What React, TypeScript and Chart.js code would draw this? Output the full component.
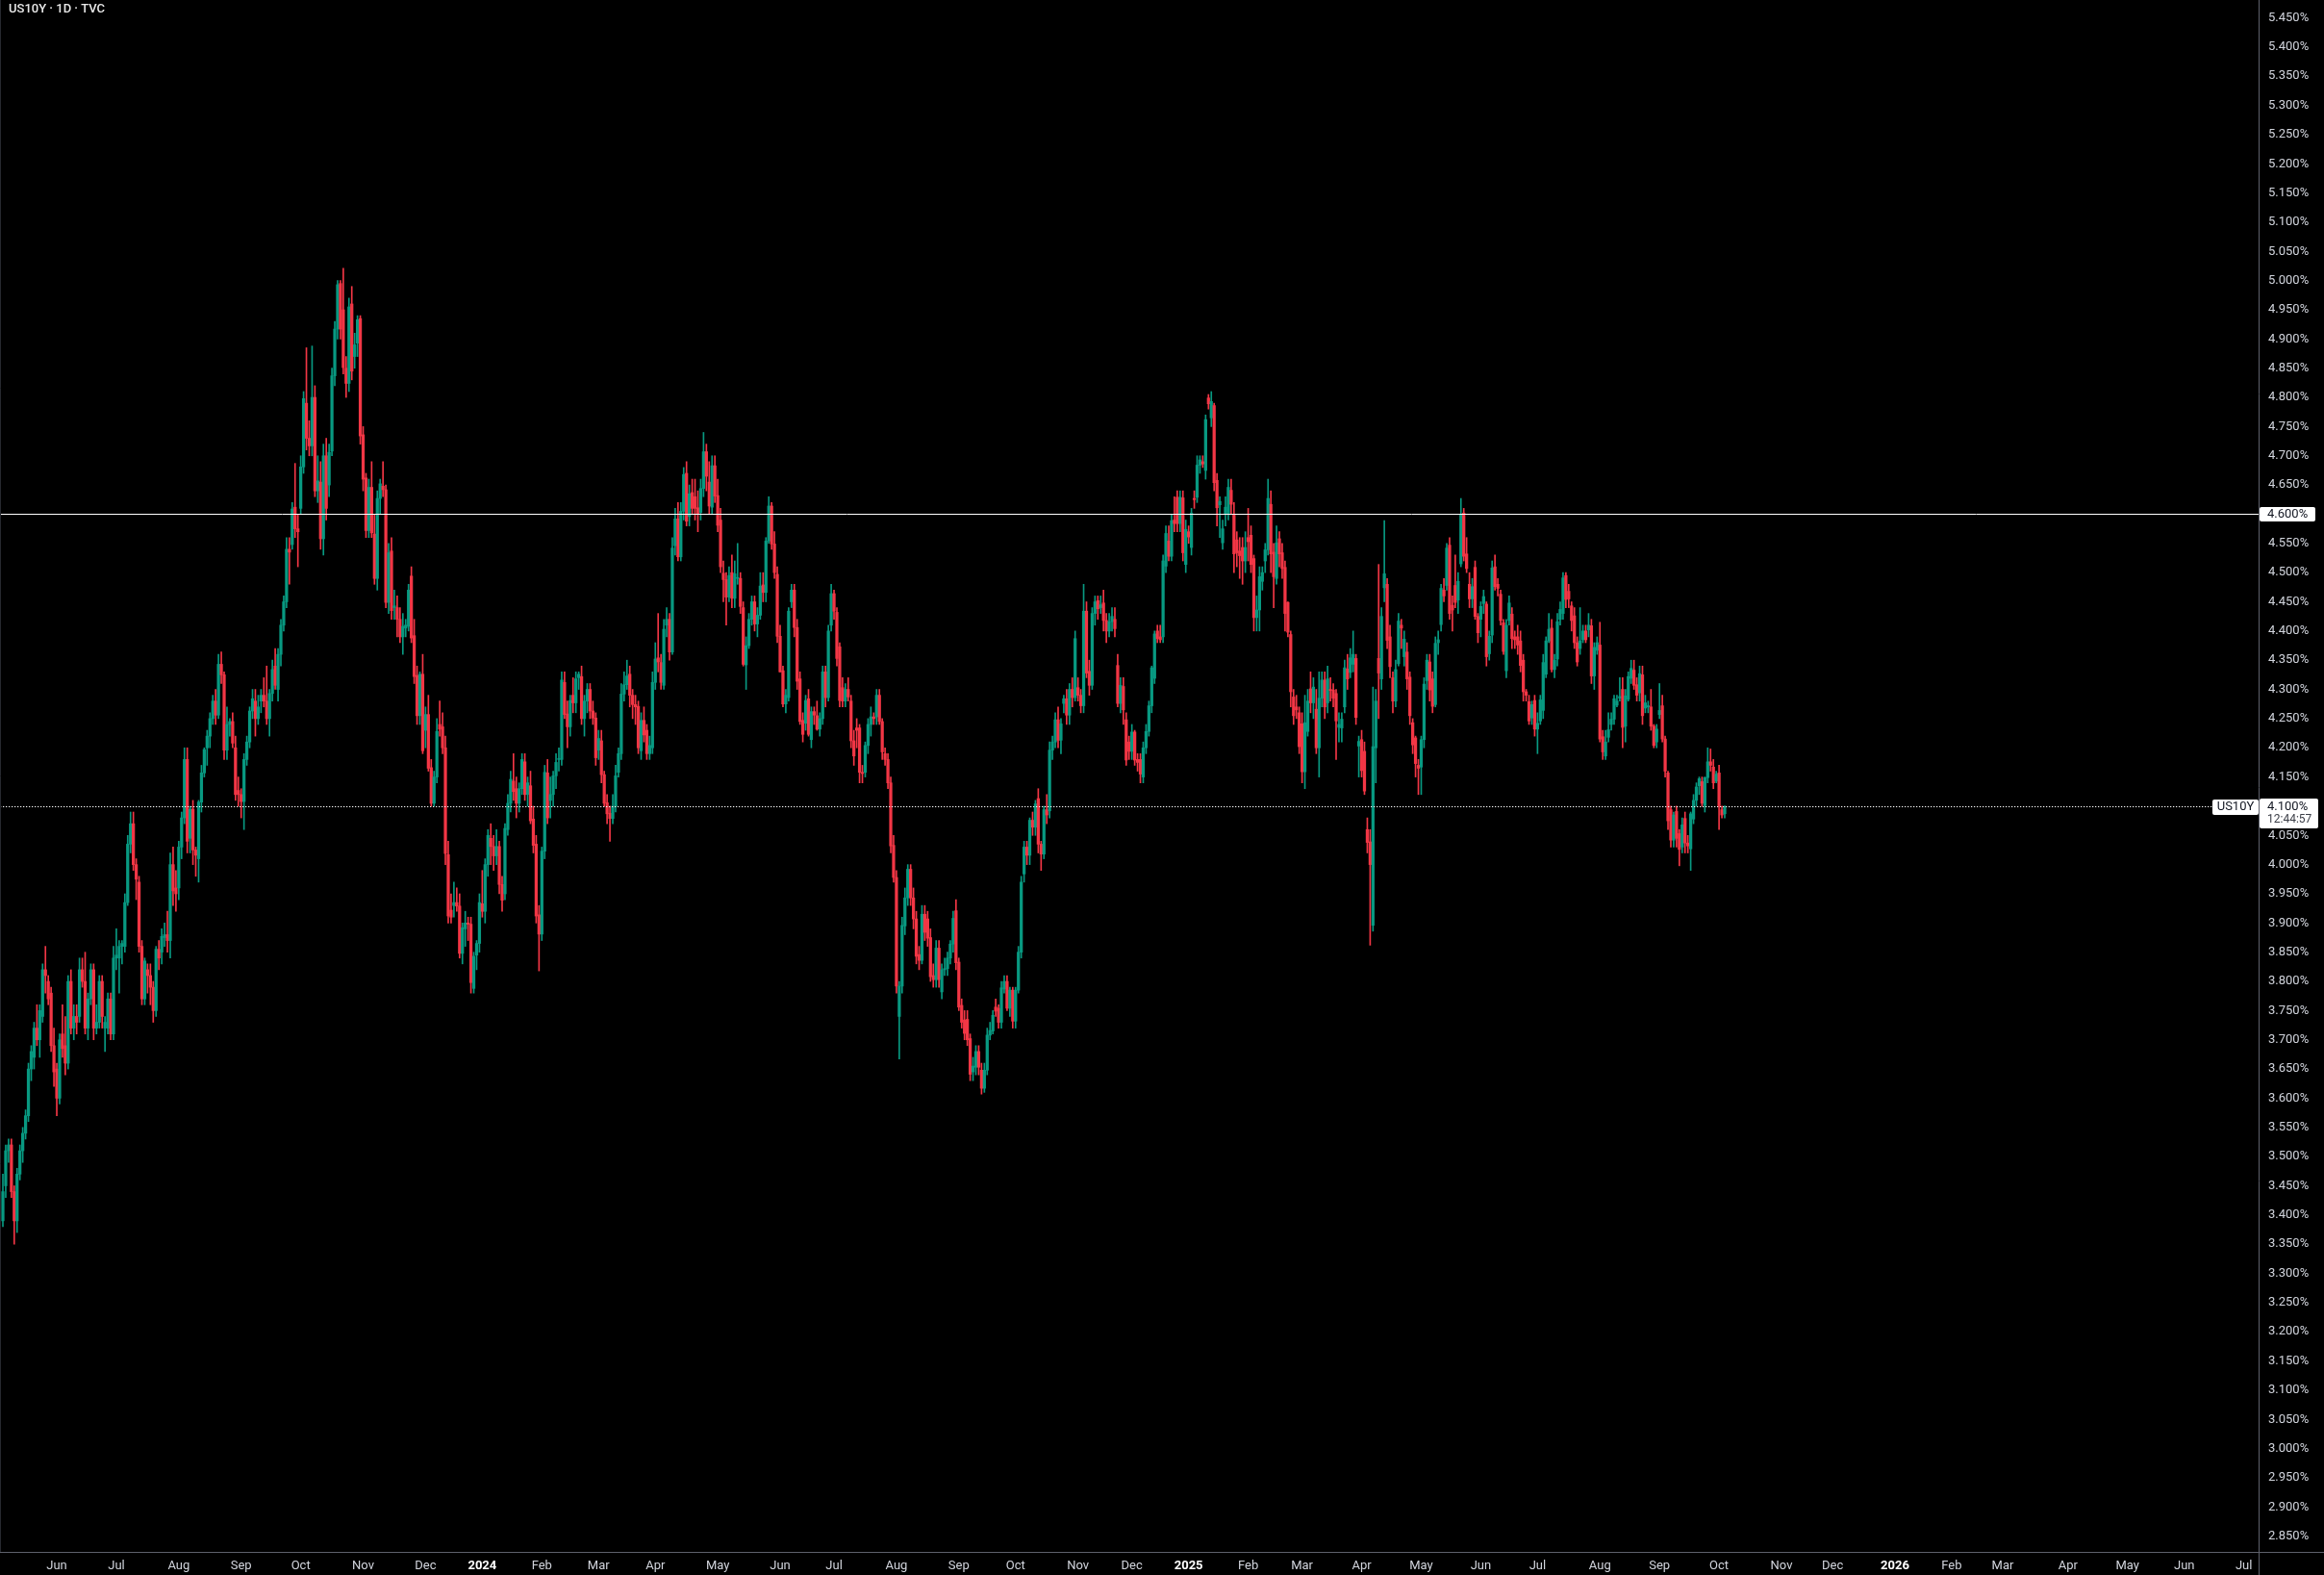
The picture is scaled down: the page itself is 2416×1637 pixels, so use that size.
import React, { useEffect, useRef } from "react";
import { Chart, registerables } from "chart.js";

Chart.register(...registerables);

const W = 2416;
const H = 1637;
const FONT = "Roboto";
const UP = "#089981";
const DOWN = "#f23645";

const chartTitle = "US10Y · 1D · TVC";

// [open, high, low, close] daily candles (yield, %)
const candles2023: number[][] = [
  [3.39,3.47,3.38,3.44],[3.45,3.52,3.43,3.51],[3.51,3.53,3.49,3.52],[3.52,3.53,3.43,3.44],[3.44,3.45,3.35,3.39],
  [3.39,3.48,3.37,3.47],[3.47,3.52,3.46,3.51],[3.51,3.55,3.49,3.54],[3.54,3.58,3.53,3.57],[3.57,3.66,3.56,3.65],
  [3.65,3.69,3.63,3.68],[3.67,3.73,3.65,3.72],[3.72,3.76,3.69,3.70],[3.70,3.76,3.67,3.75],[3.74,3.83,3.73,3.82],
  [3.82,3.86,3.78,3.81],[3.80,3.81,3.76,3.77],[3.78,3.79,3.68,3.69],[3.69,3.72,3.62,3.645],[3.65,3.66,3.57,3.60],
  [3.60,3.71,3.59,3.70],[3.71,3.76,3.67,3.685],[3.69,3.74,3.64,3.66],[3.66,3.81,3.65,3.80],[3.80,3.82,3.71,3.72],
  [3.72,3.76,3.70,3.74],[3.74,3.76,3.71,3.73],[3.74,3.84,3.73,3.82],[3.82,3.84,3.79,3.80],[3.80,3.85,3.71,3.72],
  [3.72,3.78,3.70,3.77],[3.77,3.83,3.76,3.82],[3.82,3.83,3.70,3.72],[3.72,3.76,3.71,3.73],[3.73,3.81,3.72,3.80],
  [3.80,3.81,3.72,3.74],[3.72,3.74,3.68,3.73],[3.72,3.78,3.71,3.77],[3.77,3.78,3.70,3.71],[3.71,3.86,3.70,3.84],
  [3.84,3.89,3.82,3.845],[3.84,3.87,3.78,3.86],[3.86,3.87,3.83,3.865],[3.86,3.95,3.85,3.935],[3.935,4.05,3.93,4.035],
  [4.035,4.09,4.02,4.07],[4.07,4.09,3.99,4.00],[4.00,4.01,3.94,3.975],[3.97,3.98,3.85,3.86],[3.86,3.87,3.76,3.77],
  [3.77,3.84,3.76,3.835],[3.82,3.83,3.78,3.81],[3.81,3.83,3.76,3.79],[3.79,3.80,3.73,3.75],[3.75,3.86,3.74,3.855],
  [3.855,3.87,3.82,3.84],[3.85,3.89,3.83,3.877],[3.875,3.90,3.86,3.88],[3.88,3.92,3.85,3.87],[3.87,4.02,3.84,4.00],
  [4.00,4.03,3.93,3.955],[3.96,3.99,3.92,3.95],[3.96,4.04,3.94,4.03],[4.03,4.09,4.01,4.08],[4.08,4.20,4.07,4.18],
  [4.18,4.20,4.02,4.04],[4.045,4.10,4.02,4.095],[4.095,4.11,4.00,4.025],[4.025,4.03,3.98,4.016],[4.01,4.11,3.97,4.107],
  [4.107,4.17,4.09,4.157],[4.157,4.20,4.15,4.197],[4.20,4.23,4.17,4.22],[4.22,4.26,4.20,4.25],[4.25,4.29,4.24,4.28],
  [4.28,4.30,4.24,4.256],[4.256,4.36,4.25,4.343],[4.343,4.364,4.31,4.325],[4.325,4.33,4.18,4.196],[4.196,4.27,4.18,4.24],
  [4.24,4.25,4.22,4.245],[4.245,4.26,4.20,4.208],[4.20,4.22,4.11,4.12],[4.127,4.15,4.10,4.12],[4.12,4.13,4.08,4.108],
  [4.108,4.19,4.06,4.18],[4.18,4.22,4.17,4.21],[4.21,4.27,4.20,4.263],[4.263,4.30,4.25,4.284],[4.28,4.30,4.22,4.25],
  [4.25,4.29,4.24,4.27],[4.28,4.30,4.26,4.29],[4.29,4.32,4.27,4.28],[4.28,4.34,4.24,4.25],[4.25,4.30,4.22,4.293],
  [4.293,4.35,4.28,4.334],[4.34,4.37,4.30,4.307],[4.30,4.37,4.28,4.36],[4.36,4.42,4.34,4.41],[4.41,4.46,4.40,4.45],
  [4.45,4.56,4.44,4.54],[4.54,4.56,4.48,4.535],[4.548,4.62,4.54,4.609],[4.612,4.687,4.56,4.575],[4.575,4.60,4.51,4.57],
  [4.61,4.70,4.60,4.681],[4.681,4.81,4.67,4.798],[4.79,4.885,4.71,4.73],[4.73,4.76,4.70,4.717],[4.717,4.888,4.70,4.80],
  [4.80,4.82,4.63,4.64],[4.64,4.70,4.62,4.657],[4.655,4.69,4.54,4.558],[4.558,4.72,4.53,4.70],[4.70,4.73,4.59,4.61],
  [4.65,4.72,4.63,4.706],[4.708,4.85,4.70,4.837],[4.837,4.93,4.82,4.917],[4.917,5.00,4.90,4.993],[4.995,5.00,4.90,4.917],
  [4.95,5.021,4.84,4.851],[4.85,4.87,4.80,4.824],[4.824,4.97,4.81,4.955],[4.96,4.99,4.83,4.845],[4.87,4.91,4.85,4.89],
  [4.893,4.94,4.87,4.933],[4.935,4.94,4.72,4.734],[4.736,4.75,4.64,4.66],[4.662,4.67,4.56,4.572],[4.572,4.66,4.56,4.646],
  [4.646,4.69,4.56,4.568],[4.566,4.60,4.48,4.49],[4.49,4.64,4.47,4.627],[4.627,4.66,4.60,4.652],[4.648,4.69,4.63,4.642],
  [4.642,4.65,4.44,4.449],[4.449,4.55,4.43,4.534],[4.537,4.56,4.42,4.435],[4.44,4.47,4.42,4.443],[4.44,4.46,4.39,4.42],
  [4.42,4.44,4.38,4.39],[4.39,4.43,4.36,4.408],[4.405,4.42,4.39,4.41],[4.408,4.48,4.40,4.47],[4.494,4.51,4.38,4.388],
  [4.392,4.42,4.31,4.322],[4.324,4.34,4.24,4.255],[4.255,4.33,4.24,4.326],[4.326,4.36,4.19,4.195],[4.23,4.27,4.20,4.257],
  [4.257,4.29,4.16,4.165],[4.166,4.18,4.10,4.105],[4.105,4.16,4.10,4.15],[4.15,4.25,4.14,4.228],[4.24,4.28,4.22,4.232],
  [4.236,4.26,4.19,4.20],[4.20,4.22,4.00,4.019],[4.017,4.04,3.90,3.912],[3.922,3.95,3.90,3.91],[3.93,3.97,3.91,3.935],
  [3.935,3.96,3.92,3.929],[3.929,3.95,3.84,3.848],[3.848,3.90,3.83,3.892],[3.89,3.92,3.86,3.90],[3.90,3.91,3.87,3.898],
  [3.898,3.91,3.78,3.798],[3.788,3.85,3.78,3.843],[3.845,3.87,3.82,3.865],[3.865,3.95,3.85,3.935],
];

const candles2024: number[][] = [
  [3.933,3.99,3.91,3.92],[3.92,4.01,3.90,4.00],[4.00,4.06,3.98,4.05],[4.045,4.07,4.00,4.031],[4.031,4.05,3.99,4.015],
  [4.015,4.06,4.00,4.031],[4.031,4.04,3.95,3.966],[3.966,3.98,3.92,3.939],[3.95,4.07,3.94,4.062],[4.06,4.12,4.05,4.105],
  [4.105,4.16,4.09,4.146],[4.143,4.19,4.11,4.125],[4.13,4.15,4.08,4.105],[4.105,4.14,4.09,4.13],[4.13,4.19,4.12,4.18],
  [4.176,4.19,4.11,4.12],[4.12,4.15,4.10,4.14],[4.135,4.16,4.07,4.075],[4.078,4.10,4.02,4.033],[4.035,4.05,3.90,3.912],
  [3.914,3.93,3.818,3.881],[3.881,4.03,3.87,4.023],[4.023,4.17,4.01,4.158],[4.157,4.18,4.07,4.08],[4.11,4.15,4.08,4.12],
  [4.12,4.16,4.10,4.152],[4.152,4.19,4.13,4.175],[4.18,4.20,4.16,4.18],[4.18,4.33,4.17,4.316],[4.312,4.33,4.25,4.257],
  [4.258,4.28,4.20,4.236],[4.236,4.29,4.22,4.281],[4.29,4.32,4.26,4.277],[4.277,4.33,4.26,4.318],[4.32,4.33,4.30,4.326],
  [4.322,4.34,4.24,4.25],[4.25,4.29,4.22,4.28],[4.28,4.31,4.26,4.30],[4.30,4.31,4.25,4.263],[4.263,4.28,4.24,4.251],
  [4.251,4.26,4.17,4.183],[4.196,4.23,4.18,4.216],[4.212,4.23,4.14,4.154],[4.154,4.16,4.10,4.105],[4.106,4.12,4.07,4.087],
  [4.088,4.10,4.04,4.079],[4.079,4.12,4.07,4.10],[4.10,4.17,4.09,4.152],[4.158,4.20,4.15,4.19],[4.19,4.31,4.18,4.292],
  [4.292,4.33,4.28,4.308],[4.308,4.35,4.30,4.323],[4.326,4.34,4.27,4.29],[4.29,4.30,4.25,4.274],[4.274,4.29,4.24,4.27],
  [4.271,4.28,4.19,4.20],[4.195,4.26,4.18,4.247],[4.247,4.27,4.21,4.222],[4.23,4.24,4.18,4.19],[4.19,4.22,4.18,4.204],
  [4.20,4.33,4.19,4.312],[4.312,4.38,4.30,4.352],[4.354,4.43,4.33,4.347],[4.346,4.36,4.30,4.312],[4.307,4.42,4.30,4.403],
  [4.41,4.44,4.39,4.42],[4.42,4.43,4.35,4.364],[4.364,4.56,4.36,4.542],[4.546,4.61,4.53,4.592],[4.592,4.62,4.52,4.527],
  [4.527,4.62,4.52,4.605],[4.605,4.68,4.59,4.668],[4.67,4.69,4.58,4.588],[4.596,4.65,4.58,4.635],[4.637,4.66,4.60,4.61],
  [4.63,4.66,4.59,4.61],[4.611,4.64,4.57,4.60],[4.603,4.66,4.59,4.644],[4.644,4.74,4.63,4.707],[4.707,4.72,4.64,4.665],
  [4.655,4.69,4.60,4.614],[4.612,4.70,4.60,4.683],[4.683,4.70,4.62,4.631],[4.632,4.66,4.57,4.581],[4.59,4.61,4.50,4.51],
  [4.499,4.52,4.45,4.488],[4.488,4.50,4.41,4.458],[4.458,4.51,4.45,4.495],[4.50,4.53,4.44,4.456],[4.456,4.52,4.44,4.498],
  [4.49,4.55,4.48,4.49],[4.49,4.50,4.43,4.442],[4.44,4.45,4.34,4.343],[4.342,4.39,4.30,4.375],[4.375,4.43,4.37,4.42],
  [4.42,4.46,4.41,4.45],[4.45,4.46,4.40,4.412],[4.412,4.44,4.39,4.427],[4.427,4.50,4.42,4.477],[4.479,4.50,4.45,4.466],
  [4.466,4.56,4.45,4.554],[4.554,4.63,4.55,4.614],[4.614,4.62,4.54,4.549],[4.549,4.57,4.49,4.50],[4.497,4.51,4.38,4.391],
  [4.391,4.41,4.33,4.33],[4.332,4.34,4.27,4.275],[4.275,4.30,4.26,4.29],[4.286,4.44,4.28,4.434],[4.45,4.48,4.44,4.47],
  [4.47,4.48,4.39,4.406],[4.406,4.42,4.30,4.314],[4.318,4.33,4.24,4.245],[4.247,4.26,4.21,4.223],[4.242,4.29,4.23,4.281],
  [4.284,4.30,4.22,4.223],[4.214,4.27,4.20,4.262],[4.262,4.27,4.24,4.256],[4.255,4.28,4.23,4.232],[4.232,4.26,4.22,4.25],
  [4.25,4.34,4.24,4.33],[4.33,4.34,4.27,4.286],[4.286,4.41,4.28,4.40],[4.41,4.48,4.40,4.464],[4.464,4.47,4.42,4.434],
  [4.432,4.44,4.34,4.353],[4.373,4.38,4.27,4.281],[4.303,4.32,4.27,4.28],[4.28,4.31,4.27,4.30],[4.30,4.32,4.28,4.287],
  [4.28,4.29,4.20,4.212],[4.212,4.23,4.17,4.186],[4.234,4.25,4.20,4.23],[4.234,4.24,4.14,4.158],[4.158,4.17,4.14,4.156],
  [4.158,4.21,4.15,4.204],[4.204,4.25,4.19,4.24],[4.24,4.27,4.22,4.253],[4.253,4.26,4.24,4.25],[4.253,4.30,4.24,4.29],
  [4.29,4.30,4.24,4.245],[4.245,4.25,4.18,4.193],[4.19,4.20,4.17,4.18],[4.18,4.19,4.13,4.14],[4.14,4.15,4.02,4.032],
  [4.033,4.05,3.97,3.978],[3.978,3.99,3.78,3.792],[3.74,3.80,3.667,3.792],[3.792,3.91,3.78,3.896],[3.895,3.96,3.88,3.943],
  [3.943,4.00,3.93,3.992],[3.992,4.00,3.93,3.943],[3.943,3.96,3.89,3.907],[3.907,3.92,3.83,3.843],[3.846,3.86,3.82,3.836],
  [3.836,3.93,3.83,3.915],[3.915,3.93,3.87,3.884],[3.907,3.92,3.86,3.874],[3.875,3.89,3.80,3.808],[3.81,3.83,3.79,3.803],
  [3.803,3.87,3.79,3.857],[3.857,3.87,3.79,3.803],[3.782,3.83,3.77,3.82],[3.82,3.84,3.81,3.822],[3.822,3.85,3.81,3.84],
  [3.84,3.87,3.83,3.864],[3.864,3.92,3.85,3.908],[3.921,3.94,3.82,3.832],[3.833,3.84,3.75,3.756],[3.759,3.77,3.72,3.73],
  [3.734,3.75,3.70,3.711],[3.735,3.75,3.69,3.70],[3.702,3.71,3.63,3.641],[3.645,3.67,3.63,3.655],[3.653,3.69,3.64,3.68],
  [3.68,3.69,3.64,3.653],[3.648,3.66,3.607,3.617],[3.617,3.66,3.61,3.648],[3.648,3.72,3.64,3.708],[3.708,3.73,3.70,3.716],
  [3.715,3.75,3.71,3.742],[3.756,3.77,3.74,3.749],[3.754,3.76,3.72,3.73],[3.73,3.80,3.72,3.789],[3.787,3.81,3.78,3.80],
  [3.80,3.81,3.75,3.754],[3.754,3.79,3.74,3.785],[3.785,3.79,3.72,3.732],[3.732,3.79,3.72,3.785],[3.785,3.86,3.78,3.85],
  [3.85,3.98,3.84,3.97],[3.984,4.04,3.97,4.03],[4.03,4.04,4.00,4.016],[4.016,4.08,4.00,4.076],[4.076,4.09,4.05,4.064],
  [4.064,4.11,4.05,4.104],[4.113,4.13,4.02,4.035],[4.035,4.04,3.99,4.018],[4.018,4.10,4.01,4.094],[4.094,4.12,4.07,4.085],
  [4.092,4.21,4.08,4.196],[4.196,4.22,4.18,4.21],[4.21,4.26,4.20,4.248],[4.248,4.27,4.20,4.213],[4.213,4.25,4.19,4.241],
  [4.276,4.29,4.26,4.284],[4.284,4.30,4.24,4.256],[4.256,4.31,4.24,4.30],[4.30,4.32,4.27,4.286],[4.286,4.40,4.28,4.387],
  [4.303,4.32,4.28,4.29],[4.29,4.30,4.26,4.272],[4.272,4.48,4.26,4.434],[4.434,4.45,4.32,4.328],[4.331,4.35,4.29,4.307],
  [4.307,4.44,4.30,4.43],[4.43,4.46,4.41,4.45],[4.452,4.46,4.42,4.438],[4.44,4.46,4.43,4.445],[4.448,4.47,4.40,4.418],
  [4.418,4.43,4.38,4.40],[4.40,4.43,4.39,4.416],[4.416,4.44,4.40,4.425],[4.42,4.44,4.39,4.404],[4.341,4.36,4.27,4.276],
  [4.276,4.32,4.26,4.307],[4.305,4.32,4.24,4.265],[4.248,4.26,4.17,4.179],[4.21,4.22,4.18,4.194],[4.194,4.24,4.18,4.227],
  [4.227,4.23,4.17,4.179],[4.18,4.19,4.16,4.175],[4.18,4.19,4.14,4.155],[4.15,4.21,4.14,4.20],[4.20,4.24,4.19,4.228],
  [4.228,4.28,4.22,4.272],[4.272,4.34,4.26,4.337],[4.319,4.40,4.31,4.395],[4.40,4.41,4.38,4.387],[4.39,4.41,4.38,4.385],
  [4.39,4.53,4.38,4.52],[4.511,4.58,4.50,4.567],[4.554,4.58,4.52,4.528],[4.528,4.60,4.52,4.589],[4.59,4.63,4.57,4.584],
  [4.629,4.64,4.57,4.584],[4.584,4.64,4.57,4.629],[4.628,4.64,4.52,4.534],[4.514,4.59,4.50,4.574],
];

const candles2025: number[][] = [
  [4.57,4.58,4.55,4.561],[4.543,4.61,4.53,4.602],[4.627,4.64,4.61,4.625],[4.629,4.70,4.62,4.684],[4.684,4.70,4.67,4.693],
  [4.69,4.70,4.68,4.686],[4.675,4.77,4.66,4.762],[4.799,4.805,4.78,4.789],[4.765,4.81,4.75,4.793],[4.786,4.79,4.64,4.654],
  [4.658,4.67,4.58,4.611],[4.616,4.63,4.56,4.622],[4.551,4.59,4.54,4.575],[4.60,4.63,4.58,4.612],[4.60,4.66,4.59,4.646],
  [4.641,4.66,4.60,4.617],[4.599,4.62,4.50,4.532],[4.556,4.57,4.51,4.534],[4.537,4.56,4.49,4.529],[4.543,4.56,4.48,4.52],
  [4.52,4.57,4.50,4.543],[4.56,4.61,4.52,4.553],[4.564,4.58,4.50,4.514],[4.524,4.53,4.40,4.423],[4.423,4.46,4.40,4.436],
  [4.436,4.51,4.40,4.493],[4.485,4.51,4.47,4.50],[4.52,4.55,4.50,4.539],[4.539,4.66,4.53,4.627],[4.617,4.64,4.50,4.532],
  [4.535,4.55,4.44,4.493],[4.49,4.58,4.48,4.551],[4.558,4.57,4.51,4.532],[4.534,4.55,4.49,4.507],[4.509,4.52,4.40,4.43],
  [4.449,4.45,4.39,4.398],[4.394,4.40,4.27,4.296],[4.287,4.30,4.24,4.255],[4.27,4.29,4.25,4.265],[4.26,4.27,4.19,4.202],
  [4.241,4.26,4.14,4.159],[4.159,4.29,4.13,4.243],[4.228,4.30,4.22,4.28],[4.301,4.33,4.26,4.277],[4.277,4.32,4.25,4.304],
  [4.266,4.30,4.19,4.20],[4.20,4.33,4.15,4.285],[4.285,4.33,4.27,4.316],[4.316,4.33,4.25,4.27],[4.277,4.34,4.26,4.318],
  [4.30,4.32,4.28,4.298],[4.299,4.31,4.27,4.285],[4.293,4.30,4.18,4.246],[4.235,4.26,4.21,4.24],[4.234,4.26,4.21,4.249],
  [4.27,4.35,4.26,4.337],[4.335,4.36,4.30,4.318],[4.329,4.37,4.32,4.354],[4.343,4.40,4.33,4.36],[4.353,4.36,4.24,4.252],
  [4.203,4.22,4.15,4.211],[4.214,4.23,4.15,4.161],[4.194,4.21,4.12,4.126],[4.06,4.08,4.02,4.038],[4.039,4.06,3.862,4.00],
  [3.896,4.304,3.886,4.202],[4.20,4.30,4.14,4.28],[4.353,4.514,4.25,4.328],[4.318,4.44,4.30,4.425],[4.474,4.589,4.45,4.498],
  [4.48,4.49,4.37,4.384],[4.39,4.41,4.32,4.339],[4.32,4.33,4.26,4.28],[4.28,4.35,4.27,4.334],[4.344,4.43,4.34,4.417],
  [4.41,4.42,4.37,4.405],[4.356,4.40,4.34,4.386],[4.364,4.38,4.30,4.318],[4.321,4.33,4.24,4.255],[4.243,4.25,4.19,4.205],
  [4.217,4.22,4.15,4.173],[4.17,4.18,4.12,4.165],[4.167,4.22,4.12,4.214],[4.214,4.32,4.20,4.309],[4.315,4.36,4.30,4.35],
  [4.347,4.36,4.28,4.299],[4.318,4.33,4.26,4.271],[4.274,4.39,4.27,4.379],[4.38,4.40,4.36,4.385],[4.411,4.48,4.40,4.473],
  [4.47,4.49,4.45,4.46],[4.478,4.55,4.47,4.542],[4.547,4.56,4.42,4.43],[4.444,4.46,4.40,4.436],[4.478,4.53,4.44,4.449],
  [4.453,4.50,4.43,4.485],[4.515,4.627,4.51,4.60],[4.602,4.61,4.52,4.528],[4.532,4.56,4.50,4.507],[4.48,4.50,4.44,4.455],
  [4.455,4.49,4.44,4.476],[4.509,4.52,4.42,4.425],[4.425,4.43,4.38,4.397],[4.42,4.45,4.39,4.442],[4.447,4.47,4.43,4.459],
  [4.446,4.45,4.34,4.356],[4.361,4.40,4.35,4.391],[4.393,4.52,4.38,4.508],[4.51,4.53,4.47,4.476],[4.48,4.49,4.46,4.473],
  [4.463,4.47,4.41,4.418],[4.414,4.42,4.36,4.365],[4.332,4.42,4.32,4.41],[4.418,4.46,4.41,4.448],[4.429,4.44,4.37,4.387],
  [4.39,4.40,4.37,4.385],[4.39,4.41,4.36,4.376],[4.383,4.40,4.33,4.341],[4.35,4.36,4.28,4.296],[4.296,4.30,4.28,4.29],
  [4.279,4.29,4.24,4.246],[4.251,4.28,4.24,4.274],[4.281,4.29,4.22,4.232],[4.232,4.26,4.19,4.242],[4.246,4.29,4.24,4.282],
  [4.264,4.36,4.25,4.346],[4.326,4.39,4.32,4.383],[4.383,4.43,4.38,4.403],[4.405,4.42,4.33,4.334],[4.334,4.36,4.32,4.35],
  [4.352,4.43,4.34,4.416],[4.42,4.45,4.41,4.437],[4.43,4.50,4.42,4.491],[4.495,4.50,4.44,4.454],[4.468,4.48,4.44,4.455],
  [4.443,4.45,4.40,4.418],[4.426,4.44,4.37,4.38],[4.38,4.39,4.34,4.347],[4.37,4.44,4.36,4.383],[4.385,4.41,4.38,4.40],
  [4.40,4.41,4.38,4.385],[4.402,4.43,4.39,4.41],[4.409,4.42,4.31,4.323],[4.323,4.38,4.30,4.372],[4.367,4.39,4.36,4.38],
  [4.376,4.415,4.21,4.215],[4.219,4.23,4.18,4.193],[4.186,4.23,4.18,4.21],[4.218,4.26,4.21,4.231],[4.24,4.26,4.23,4.249],
  [4.249,4.29,4.24,4.284],[4.273,4.29,4.27,4.28],[4.285,4.32,4.28,4.288],[4.30,4.32,4.20,4.235],[4.237,4.30,4.21,4.289],
  [4.283,4.33,4.28,4.322],[4.319,4.35,4.31,4.336],[4.333,4.35,4.30,4.307],[4.308,4.32,4.28,4.29],[4.294,4.34,4.28,4.327],
  [4.325,4.34,4.24,4.255],[4.268,4.29,4.26,4.277],[4.27,4.28,4.26,4.272],[4.27,4.30,4.23,4.237],[4.237,4.24,4.20,4.204],
  [4.21,4.24,4.20,4.232],[4.257,4.31,4.25,4.264],[4.272,4.29,4.21,4.215],[4.215,4.22,4.15,4.16],[4.157,4.16,4.06,4.075],
  [4.094,4.10,4.03,4.042],[4.042,4.09,4.03,4.085],[4.091,4.10,4.03,4.045],[4.053,4.06,3.998,4.026],[4.03,4.08,4.02,4.068],
  [4.079,4.09,4.02,4.037],[4.037,4.05,4.02,4.032],[4.027,4.09,3.99,4.087],[4.078,4.12,4.07,4.11],[4.11,4.14,4.10,4.133],
  [4.135,4.15,4.12,4.147],[4.142,4.15,4.10,4.105],[4.101,4.15,4.09,4.149],[4.149,4.20,4.14,4.176],[4.176,4.198,4.16,4.17],
  [4.167,4.18,4.13,4.14],[4.143,4.16,4.14,4.155],[4.157,4.17,4.06,4.10],[4.094,4.10,4.08,4.085],[4.087,4.10,4.08,4.10],
];

// x-axis month labels, placed at the bar index of each month's first session
const monthTickIndex = [19,40,62,84,105,127,149,169,190,210,230,252,274,293,315,337,357,379,398,418,439,458,479,500,521,541,563,584,605,627,645,667,687,705,728,749,769,790];
const monthTickLabels = ["Jun","Jul","Aug","Sep","Oct","Nov","Dec","2024","Feb","Mar","Apr","May","Jun","Jul","Aug","Sep","Oct","Nov","Dec","2025","Feb","Mar","Apr","May","Jun","Jul","Aug","Sep","Oct","Nov","Dec","2026","Feb","Mar","Apr","May","Jun","Jul"];

// y-axis price labels
const priceTicks = [
  2.85,2.90,2.95,3.00,3.05,3.10,3.15,3.20,3.25,3.30,3.35,3.40,3.45,3.50,3.55,3.60,3.65,3.70,3.75,3.80,3.85,3.90,3.95,
  4.00,4.05,4.10,4.15,4.20,4.25,4.30,4.35,4.40,4.45,4.50,4.55,4.60,4.65,4.70,4.75,4.80,4.85,4.90,4.95,5.00,5.05,5.10,
  5.15,5.20,5.25,5.30,5.35,5.40,5.45,
];

const levelLines = [4.6];
const symbolBadge = "US10Y";
const countdownText = "12:44:57";

const X_MIN = -1.017;
const X_MAX = 795.2;
const Y_MIN = 2.8231;
const Y_MAX = 5.4805;

const isYear = (s: string) => /^\d{4}$/.test(s || "");

const zeroPad = (s: any) => {
  s.paddingTop = 0;
  s.paddingBottom = 0;
  s.paddingLeft = 0;
  s.paddingRight = 0;
};

export default function App() {
  const ref = useRef<HTMLCanvasElement | null>(null);

  useEffect(() => {
    document.body.style.margin = "0";
    document.body.style.background = "#000";
    const canvas = ref.current;
    if (!canvas) return;

    const candles = [...candles2023, ...candles2024, ...candles2025];
    const colors = candles.map((c) => (c[3] >= c[0] ? UP : DOWN));
    const lastPrice = candles[candles.length - 1][3];

    const overlay = {
      id: "overlay",
      beforeDraw(chart: any) {
        const { ctx } = chart;
        ctx.save();
        ctx.fillStyle = "#000";
        ctx.fillRect(0, 0, chart.width, chart.height);
        ctx.restore();
      },
      afterDatasetsDraw(chart: any) {
        const { ctx, chartArea } = chart;
        const y = chart.scales.y;
        ctx.save();
        ctx.strokeStyle = "#ffffff";
        ctx.lineWidth = 1;
        for (const lv of levelLines) {
          const py = Math.round(y.getPixelForValue(lv)) + 0.5;
          ctx.beginPath();
          ctx.moveTo(chartArea.left, py);
          ctx.lineTo(chartArea.right, py);
          ctx.stroke();
        }
        const lp = Math.round(y.getPixelForValue(lastPrice)) + 0.5;
        ctx.setLineDash([1.3, 1.7]);
        ctx.beginPath();
        ctx.moveTo(chartArea.left, lp);
        ctx.lineTo(chartArea.right, lp);
        ctx.stroke();
        ctx.restore();
      },
      afterDraw(chart: any) {
        const { ctx, chartArea } = chart;
        const y = chart.scales.y;
        ctx.save();
        // axis borders
        ctx.strokeStyle = "#5d606b";
        ctx.lineWidth = 1;
        ctx.beginPath();
        ctx.moveTo(chartArea.right + 0.5, 0);
        ctx.lineTo(chartArea.right + 0.5, chart.height);
        ctx.moveTo(0, chartArea.bottom + 0.5);
        ctx.lineTo(chart.width, chartArea.bottom + 0.5);
        ctx.stroke();
        ctx.strokeStyle = "#26282e";
        ctx.beginPath();
        ctx.moveTo(0.5, 0);
        ctx.lineTo(0.5, chartArea.bottom);
        ctx.stroke();

        // title
        ctx.fillStyle = "#e8e8e8";
        ctx.font = `500 13px ${FONT}`;
        ctx.textAlign = "left";
        ctx.textBaseline = "alphabetic";
        ctx.fillText(chartTitle, 9, 13);

        const ax = chartArea.right + 1;
        // level label(s)
        for (const lv of levelLines) {
          const py = y.getPixelForValue(lv);
          ctx.fillStyle = "#ffffff";
          ctx.beginPath();
          ctx.roundRect(ax, py - 7.5, 58, 15, 2);
          ctx.fill();
          ctx.fillStyle = "#131722";
          ctx.font = `13px ${FONT}`;
          ctx.textBaseline = "middle";
          ctx.fillText(lv.toFixed(3) + "%", ax + 8, py + 0.5);
        }
        // last price label + countdown
        const lp = y.getPixelForValue(lastPrice);
        ctx.fillStyle = "#ffffff";
        ctx.beginPath();
        ctx.roundRect(ax, lp - 8, 61, 31, 2);
        ctx.fill();
        ctx.fillStyle = "#131722";
        ctx.font = `13px ${FONT}`;
        ctx.textBaseline = "middle";
        ctx.fillText(lastPrice.toFixed(3) + "%", ax + 8, lp + 0.5);
        ctx.fillStyle = "#3b3e47";
        ctx.font = `12px ${FONT}`;
        ctx.fillText(countdownText, ax + 8, lp + 14.5);
        // symbol badge
        ctx.fillStyle = "#ffffff";
        ctx.beginPath();
        ctx.roundRect(chartArea.right - 48, lp - 7, 48, 16, 2);
        ctx.fill();
        ctx.fillStyle = "#131722";
        ctx.font = `13px ${FONT}`;
        ctx.textAlign = "center";
        ctx.fillText(symbolBadge, chartArea.right - 24, lp + 1);
        ctx.restore();
      },
    };

    const chart = new Chart(canvas, {
      type: "bar",
      data: {
        datasets: [
          {
            label: "body",
            data: candles.map((c, i) => ({ x: i, y: [Math.min(c[0], c[3]), Math.max(c[0], c[3])] })) as any,
            backgroundColor: colors,
            borderWidth: 0,
            barThickness: 2.6,
            minBarLength: 1,
            grouped: false,
          } as any,
          {
            label: "wick",
            data: candles.map((c, i) => ({ x: i, y: [c[2], c[1]] })) as any,
            backgroundColor: colors,
            borderWidth: 0,
            barThickness: 1,
            grouped: false,
          } as any,
        ],
      },
      options: {
        responsive: false,
        animation: false,
        devicePixelRatio: 1,
        layout: { padding: 0, autoPadding: false } as any,
        plugins: { legend: { display: false }, tooltip: { enabled: false } },
        scales: {
          x: {
            type: "linear",
            position: "bottom",
            min: X_MIN,
            max: X_MAX,
            offset: false,
            bounds: "data",
            grid: { display: false, drawTicks: false },
            border: { display: false },
            ticks: {
              autoSkip: false,
              maxRotation: 0,
              minRotation: 0,
              padding: 7,
              callback: (_v: any, i: number) => monthTickLabels[i] ?? "",
              font: (ctx: any) => ({ family: FONT, size: 13, weight: isYear(monthTickLabels[ctx.index]) ? "bold" : "normal" }),
              color: (ctx: any) => (isYear(monthTickLabels[ctx.index]) ? "#ffffff" : "#d1d4dc"),
            },
            afterBuildTicks: (s: any) => {
              s.ticks = monthTickIndex.map((v) => ({ value: v }));
            },
            afterFit: (s: any) => {
              s.height = 24;
              zeroPad(s);
            },
          } as any,
          y: {
            type: "linear",
            position: "right",
            min: Y_MIN,
            max: Y_MAX,
            bounds: "data",
            grid: { display: false, drawTicks: false },
            border: { display: false },
            ticks: {
              autoSkip: false,
              padding: 10,
              color: "#d1d4dc",
              font: { family: FONT, size: 13 },
              callback: (v: any) => Number(v).toFixed(3) + "%",
            },
            afterBuildTicks: (s: any) => {
              s.ticks = priceTicks.map((v) => ({ value: v }));
            },
            afterFit: (s: any) => {
              s.width = 68;
              zeroPad(s);
            },
          } as any,
        },
      },
      plugins: [overlay],
    });

    return () => chart.destroy();
  }, []);

  return (
    <div style={{ position: "fixed", left: 0, top: 0, width: W, height: H, background: "#000" }}>
      <canvas ref={ref} width={W} height={H} style={{ display: "block", width: W, height: H }} />
    </div>
  );
}
